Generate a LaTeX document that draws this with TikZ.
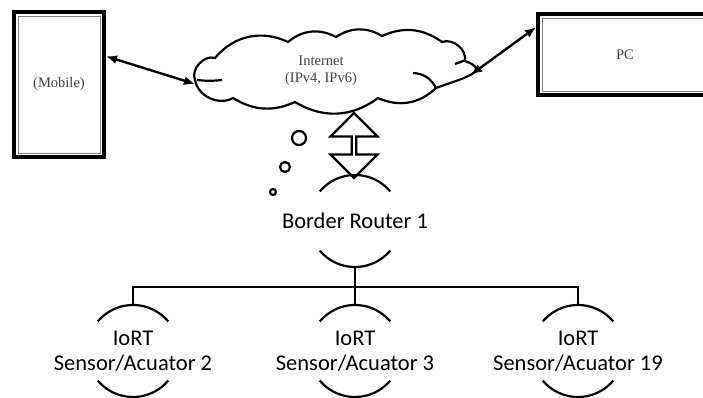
\documentclass[tikz,border=0pt]{standalone}
\usepackage{fontspec}
\setmainfont{Liberation Serif}
\newfontfamily\calib{Carlito}
\usetikzlibrary{positioning,shapes.arrows,arrows.meta}

\begin{document}
\begin{tikzpicture}[x=1pt,y=1pt,line width=2.2pt,
    device/.style={draw,line width=4pt,inner sep=0pt,font=\fontsize{14.5}{17}\selectfont,text=black!75},
    node/.style={inner sep=0pt,outer sep=0pt,minimum height=92pt,align=center,font=\calib\fontsize{22.5}{25}\selectfont},
    link/.style={line width=2.4pt,{Latex[length=11pt,width=9pt]}-{Latex[length=11pt,width=9pt]}}]
  \useasboundingbox (0,0) rectangle (703,397);
  \clip (0,0) rectangle (703,397);
  % devices
  \node[device,minimum width=90pt,minimum height=145pt](mobile) at (59,312.5){(Mobile)};
  \node[device,minimum width=174pt,minimum height=81pt](pc) at (625,342.5){PC};
  \draw[gray,line width=0.9pt] ([shift={(6,-6)}]mobile.north west) rectangle ([shift={(-6,6)}]mobile.south east);
  \draw[gray,line width=0.9pt] ([shift={(6,-6)}]pc.north west) rectangle ([shift={(-6,6)}]pc.south east);
  % the internet
  \node[align=center,font=\fontsize{14.5}{17.5}\selectfont,text=black!75](internet) at (321,326){Internet\\(IPv4, IPv6)};
  \draw (195,317) coordinate (cw) to[bend left=65] (215,339) to[bend left=38] (288,355) to[bend left=34]
        (336,360) to[bend left=32] (382,361) to[bend left=30] (442,355) to[bend left=60] (465,336)
        to[out=-20,in=20,looseness=1.9] coordinate[pos=0.5] (ce) (436,309) to[bend left=34] (378,299)
        to[bend left=34] coordinate[pos=0.5] (cs) (295,295) to[bend left=28] (233,299) to[bend left=55] cycle;
  \draw (197,317) to[bend right=6] (222,317);
  \draw (455,333) -- (466,337);
  \draw (413,324) to[bend left=30] (436,309);
  \draw[link] (mobile.31) -- ([yshift=-4pt]cw);
  \draw[link] (pc.163) -- (ce);
  % border router and sensors
  \node[node](br1) at (355,176){Border Router 1};
  \node[node](s2) at (133,46){IoRT\\Sensor/Acuator 2};
  \node[node](s3) at (355,46){IoRT\\Sensor/Acuator 3};
  \node[node](s19) at (578,46){IoRT\\Sensor/Acuator 19};
  \foreach \n in {br1,s2,s3,s19}{
    \draw ([shift={(40:46pt)}]\n.center) arc[start angle=40,end angle=140,radius=46pt];
    \draw ([shift={(220:46pt)}]\n.center) arc[start angle=220,end angle=320,radius=46pt];
  }
  \node[double arrow,draw,rotate=90,minimum height=65pt,minimum width=47pt,double arrow head extend=10pt,
        double arrow head indent=0pt,inner sep=0pt](uplink) at (354,251.5){};
  \draw (299,259) circle[radius=7pt];
  \draw (285,230) circle[radius=5pt];
  \draw (273,205) circle[radius=3pt];
  \coordinate (bus) at (355,110);
  \draw (br1.south) -- (bus);
  \draw (s2.north) -- (s2.north |- bus) -- (s19.north |- bus) -- (s19.north);
  \draw (s3.north) -- (bus);
\end{tikzpicture}
\end{document}
